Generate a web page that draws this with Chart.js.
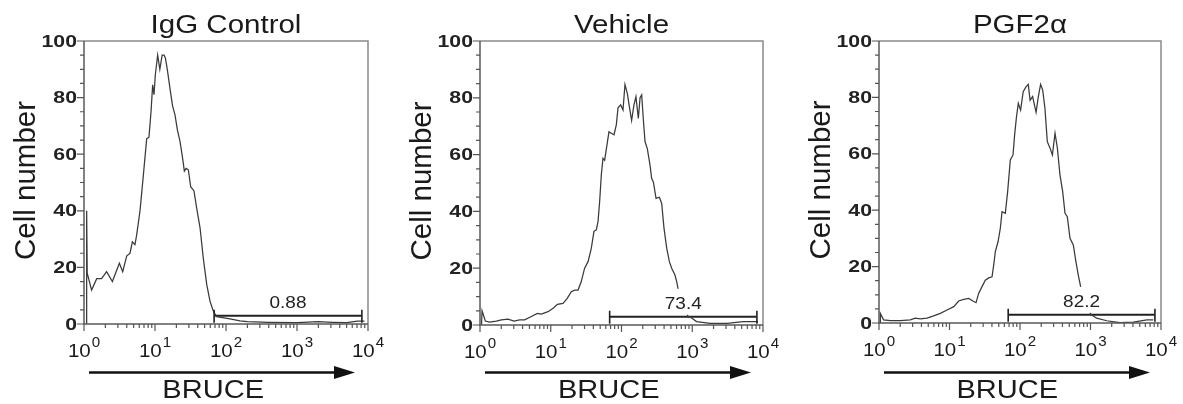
<!DOCTYPE html>
<html>
<head>
<meta charset="utf-8">
<script src="https://cdn.jsdelivr.net/npm/chart.js@4.4.1/dist/chart.umd.min.js"></script>
<style>
  html, body { margin:0; padding:0; background:#fff; }
  #wrap { position:relative; width:1183px; height:404px; overflow:hidden; background:#fff; }
  #wrap canvas { position:absolute; left:0; top:0; }
</style>
</head>
<body>
<div id="wrap">
  <canvas id="c0" width="1183" height="404"></canvas>
  <canvas id="c1" width="1183" height="404"></canvas>
  <canvas id="c2" width="1183" height="404"></canvas>
</div>
<script>
// ---------- data ----------
const titles = ['IgG Control', 'Vehicle', 'PGF2\u03b1'];
const yAxisTitle = 'Cell number';
const xAxisTitle = 'BRUCE';
const yTickLabels = [0, 20, 40, 60, 80, 100];
const xTickExponents = [0, 1, 2, 3, 4];
const gateLabels = ['0.88', '73.4', '82.2'];
const gateLow = 68;
const gateHigh = 8200;
const gateLevel = 2.9;

// IgG Control histogram: BRUCE intensity / cell number
const igX = [1.09, 1.09, 1.11, 1.28, 1.51, 1.77, 2.08, 2.51, 3.15, 3.51, 3.99, 4.45, 4.80, 5.22, 5.52, 6.15, 6.85, 7.64, 8.22, 8.79, 9.27, 9.68, 10.1, 10.9, 11.7, 12.6, 13.4, 14.0, 14.9, 16.3, 17.7, 19.1, 20.7, 22.5, 24.5, 25.9, 27.4, 29.5, 31.8, 35.4, 38.6, 43.1, 48.0, 53.5, 59.6, 66.4, 73.8, 114, 157, 200, 398, 1000, 2000, 3160, 5010, 7080, 8910];
const igY = [0, 40, 18, 12, 16, 16, 18.5, 15, 21.5, 18.5, 24, 25, 29, 28, 31.5, 40, 52.5, 65.5, 66, 75, 84.5, 81, 88, 95, 90, 95, 95, 94, 90, 83, 77, 74, 68.5, 64.5, 58.5, 54, 55, 54.5, 48.5, 47, 41, 34, 23, 14, 8, 4.5, 2.6, 1.8, 1.1, 0.8, 0.6, 0.5, 0.8, 0.6, 0.5, 1.0, 1.0];

// Vehicle histogram
const vehX = [1.05, 1.07, 1.19, 1.37, 1.70, 2.00, 2.49, 3.03, 3.64, 4.28, 5.32, 6.46, 7.36, 9.14, 10.8, 12.4, 14.9, 17.1, 19.5, 21.8, 24.3, 27.0, 30.1, 33.7, 37.4, 40.8, 44.1, 46.6, 49.1, 51.9, 54.8, 57.8, 61.1, 66.5, 71.8, 78.3, 84.5, 89.3, 97.3, 105, 112, 121, 129, 139, 150, 160, 173, 183, 193, 204, 215, 232, 253, 267, 282, 308, 343, 370, 399, 436, 475, 512, 570, 603, 635, 741, 879, 929, 1150, 1780, 3090, 5250, 8510];
const vehY = [0, 5, 1.4, 1, 1.4, 1.8, 2.1, 1.4, 1.8, 1.8, 3, 4.1, 3.8, 4.7, 5.9, 7.3, 7.6, 9.4, 11.7, 12.3, 12.3, 15.3, 20, 22.3, 27, 33, 33.5, 36.5, 43.5, 53, 58.7, 58, 62, 68, 67.5, 67, 70.5, 76.5, 77.5, 75.7, 84.7, 81.5, 77, 72, 77.5, 80.4, 72.7, 80, 81, 72, 64.6, 62, 56.3, 51.6, 50.4, 44.6, 45, 42.8, 34, 27, 22.3, 20, 17.6, 15.3, 12.3, 7, 2.9, 2.9, 1.2, 0.6, 0.6, 1.2, 1.2];

// PGF2alpha histogram
const pgfX = [1.04, 1.045, 1.16, 1.45, 2.01, 2.78, 3.27, 3.85, 4.80, 5.96, 7.41, 9.23, 11.5, 13.5, 15.9, 18.7, 21.5, 23.8, 25.9, 28.9, 32.2, 36.0, 40.1, 42.4, 44.7, 48.8, 52.6, 55.6, 61.9, 66.8, 72.9, 79.6, 83.9, 88.7, 94.6, 102, 111, 122, 131, 139, 151, 169, 182, 196, 210, 226, 244, 267, 288, 314, 339, 369, 403, 435, 469, 512, 570, 622, 671, 733, 871, 1010, 1220, 1700, 2620, 4050, 6310, 7760];
const pgfY = [0, 3.4, 1.1, 0.8, 0.8, 1.1, 1.7, 1.5, 1.7, 2.5, 3.4, 4.6, 5.8, 7.8, 8.4, 8.7, 7.8, 7.2, 10.5, 12.9, 15.2, 16, 16.4, 20.6, 25.3, 28.8, 33.6, 39.5, 38.9, 46.6, 57.8, 59.6, 66.7, 72.6, 77.9, 75.5, 82, 83.8, 84.6, 79, 80.3, 74.7, 80.3, 84.6, 82.6, 76, 64.3, 62, 59.6, 67.3, 62, 52.5, 46.6, 38.9, 37.7, 30, 27.7, 21.7, 17, 12.3, 7, 3.1, 1.7, 0.8, 0.1, 0.3, 1.1, 1.1];

// ---------- layout ----------
const W = 1183, H = 404;
const plotBoxes = [
  { l: 84,  r: 368,  t: 41, b: 324 },
  { l: 480, r: 763,  t: 41, b: 325 },
  { l: 879, r: 1161, t: 41, b: 323 }
];
const seriesX = [igX, vehX, pgfX];
const seriesY = [igY, vehY, pgfY];

const SANS = '"Liberation Sans", Arial, Helvetica, sans-serif';

function stretchedText(ctx, s, x, y, font, sx, align, baseline, color) {
  ctx.save();
  ctx.translate(x, y);
  ctx.scale(sx, 1);
  ctx.font = font;
  ctx.textAlign = align;
  ctx.textBaseline = baseline;
  ctx.fillStyle = color || '#1a1a1a';
  ctx.fillText(s, 0, 0);
  ctx.restore();
}

function panelPlugin(i) {
  return {
    id: 'panelDecor' + i,
    afterDatasetsDraw(chart) {
      const ctx = chart.ctx;
      const xs = chart.scales.x, ys = chart.scales.y;
      const barPx = ys.getPixelForValue(gateLevel);
      const x0 = xs.getPixelForValue(gateLow), x1 = xs.getPixelForValue(gateHigh);
      // gate end caps
      ctx.save();
      ctx.strokeStyle = '#222';
      ctx.lineWidth = 1.6;
      ctx.beginPath();
      ctx.moveTo(x0, barPx - 6); ctx.lineTo(x0, barPx + 7);
      ctx.moveTo(x1, barPx - 6); ctx.lineTo(x1, barPx + 7);
      ctx.stroke();
      ctx.restore();
      // gate label with white backing
      const cx = xs.getPixelForValue(Math.sqrt(gateLow * gateHigh));
      const base = barPx - 8;
      ctx.save();
      ctx.font = '16.5px ' + SANS;
      const w = ctx.measureText(gateLabels[i]).width * 1.15;
      ctx.fillStyle = '#fff';
      ctx.fillRect(cx - w / 2 - 3, base - 20, w + 6, (barPx - 2) - (base - 20));
      ctx.restore();
      stretchedText(ctx, gateLabels[i], cx, base, '16.5px ' + SANS, 1.15, 'center', 'alphabetic', '#222');
    },
    afterDraw(chart) {
      const ctx = chart.ctx;
      const a = chart.chartArea;
      const xs = chart.scales.x, ys = chart.scales.y;
      ctx.save();
      // frame
      ctx.lineWidth = 1.5;
      ctx.strokeStyle = '#8a8a8a';
      ctx.beginPath();
      ctx.moveTo(a.left, a.top); ctx.lineTo(a.right, a.top); ctx.lineTo(a.right, a.bottom);
      ctx.stroke();
      ctx.strokeStyle = '#5a5a5a';
      ctx.beginPath();
      ctx.moveTo(a.left, a.top); ctx.lineTo(a.left, a.bottom); ctx.lineTo(a.right, a.bottom);
      ctx.stroke();
      // y ticks
      ctx.lineWidth = 1.2;
      ctx.strokeStyle = '#555';
      ctx.beginPath();
      for (let v = 0; v <= 100; v += 5) {
        const py = ys.getPixelForValue(v);
        const len = (v % 20 === 0) ? 7 : 4;
        ctx.moveTo(a.left, py); ctx.lineTo(a.left - len, py);
      }
      // x ticks (log decades)
      for (let k = 0; k < 4; k++) {
        for (let m = 1; m <= 9; m++) {
          const px = xs.getPixelForValue(m * Math.pow(10, k));
          const len = (m === 1) ? 7 : 4;
          ctx.moveTo(px, a.bottom); ctx.lineTo(px, a.bottom + len);
        }
      }
      const pEnd = xs.getPixelForValue(10000);
      ctx.moveTo(pEnd, a.bottom); ctx.lineTo(pEnd, a.bottom + 7);
      ctx.stroke();
      ctx.restore();

      // y tick labels
      yTickLabels.forEach(v => {
        stretchedText(ctx, String(v), a.left - 7, ys.getPixelForValue(v) + 1, 'bold 17px ' + SANS, 1.25, 'right', 'middle', '#222');
      });
      // x tick labels 10^k
      xTickExponents.forEach(k => {
        const px = xs.getPixelForValue(Math.pow(10, k));
        ctx.save();
        ctx.font = '19px ' + SANS;
        const wb = ctx.measureText('10').width * 1.08;
        ctx.font = '14px ' + SANS;
        const we = ctx.measureText(String(k)).width * 1.08;
        ctx.restore();
        const total = wb + 1 + we;
        const left = px - total / 2;
        stretchedText(ctx, '10', left, a.bottom + 32.5, '19px ' + SANS, 1.08, 'left', 'alphabetic', '#1a1a1a');
        stretchedText(ctx, String(k), left + wb + 1, a.bottom + 22.5, '14px ' + SANS, 1.08, 'left', 'alphabetic', '#1a1a1a');
      });

      // title
      stretchedText(ctx, titles[i], (a.left + a.right) / 2, 33, '25px ' + SANS, 1.18, 'center', 'alphabetic', '#1a1a1a');

      // y axis title (rotated)
      ctx.save();
      ctx.translate(a.left - 57, (a.top + a.bottom) / 2 - 2);
      ctx.rotate(-Math.PI / 2);
      ctx.font = '29.5px ' + SANS;
      ctx.textAlign = 'center';
      ctx.textBaseline = 'middle';
      ctx.fillStyle = '#1a1a1a';
      ctx.fillText(yAxisTitle, 0, 0);
      ctx.restore();

      // arrow
      const ay = 372.5;
      const ax0 = a.left + 5, ax1 = a.left + 271;
      ctx.save();
      ctx.strokeStyle = '#111';
      ctx.fillStyle = '#111';
      ctx.lineWidth = 2.6;
      ctx.beginPath();
      ctx.moveTo(ax0, ay); ctx.lineTo(ax1 - 18, ay);
      ctx.stroke();
      ctx.beginPath();
      ctx.moveTo(ax1, ay); ctx.lineTo(ax1 - 21, ay - 6.5); ctx.lineTo(ax1 - 21, ay + 6.5);
      ctx.closePath();
      ctx.fill();
      ctx.restore();

      // x axis title
      const w = a.right - a.left;
      stretchedText(ctx, xAxisTitle, a.left + 0.455 * w, 398, '25.5px ' + SANS, 1.14, 'center', 'alphabetic', '#1a1a1a');
    }
  };
}

function makeChart(i) {
  const box = plotBoxes[i];
  const xsArr = seriesX[i], ysArr = seriesY[i];
  return new Chart(document.getElementById('c' + i), {
    type: 'line',
    data: {
      datasets: [
        {
          data: xsArr.map((x, j) => ({ x: x, y: ysArr[j] })),
          borderColor: '#3a3a3a',
          borderWidth: 1.25,
          pointRadius: 0,
          tension: 0,
          fill: false
        },
        {
          data: [{ x: gateLow, y: gateLevel }, { x: gateHigh, y: gateLevel }],
          borderColor: '#222',
          borderWidth: 2,
          pointRadius: 0,
          tension: 0,
          fill: false
        }
      ]
    },
    options: {
      responsive: false,
      animation: false,
      events: [],
      layout: { padding: { left: box.l, right: W - box.r, top: box.t, bottom: H - box.b } },
      plugins: { legend: { display: false }, tooltip: { enabled: false }, title: { display: false } },
      scales: {
        x: { type: 'logarithmic', min: 1, max: 10000, display: false },
        y: { type: 'linear', min: 0, max: 100, display: false }
      }
    },
    plugins: [panelPlugin(i)]
  });
}

[0, 1, 2].forEach(makeChart);
</script>
</body>
</html>
